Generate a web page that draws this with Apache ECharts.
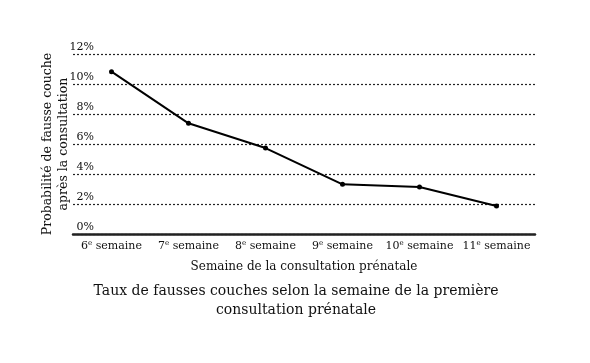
<!DOCTYPE html>
<html><head><meta charset="utf-8">
<script src="https://cdn.jsdelivr.net/npm/echarts@6/dist/echarts.min.js"></script>
<style>html,body{margin:0;padding:0;background:#fff}#c{width:590px;height:363px}</style>
</head><body><div id="c"></div>
<script>
var categories = ['6', '7', '8', '9', '10', '11'];
var values = [10.82, 7.38, 5.73, 3.31, 3.13, 1.87];
var yTicks = [0, 2, 4, 6, 8, 10, 12];
var FONT = 'DejaVu Serif';
var chart = echarts.init(document.getElementById('c'));
chart.setOption({
  animation: false,
  backgroundColor: '#fff',
  title: {
    text: 'Taux de fausses couches selon la semaine de la première\nconsultation prénatale',
    left: 291, textAlign: 'center', top: 277,
    textStyle: { fontFamily: FONT, fontSize: 14, fontWeight: 'normal', color: '#111', lineHeight: 19 }
  },
  grid: { left: 73, right: 55, top: 54, bottom: 129 },
  xAxis: {
    type: 'category', data: categories,
    name: 'Semaine de la consultation prénatale', nameLocation: 'middle', nameGap: 27,
    nameTextStyle: { fontFamily: FONT, fontSize: 12, color: '#111' },
    axisLine: { lineStyle: { color: '#222', width: 2.5 } },
    axisTick: { show: false },
    axisLabel: {
      interval: 0, margin: 6, color: '#111', fontFamily: FONT, fontSize: 11,
      formatter: function (v) { return '{n|' + v + '}{s|e}{n| semaine}'; },
      rich: {
        n: { fontFamily: FONT, fontSize: 11, color: '#111' },
        s: { fontFamily: FONT, fontSize: 7, color: '#111', padding: [0, 0, 5, 0] }
      }
    }
  },
  yAxis: {
    type: 'value', min: 0, max: 12, interval: 2,
    name: 'Probabilité de fausse couche\naprès la consultation', nameLocation: 'middle', nameGap: 1, nameRotate: 90,
    nameMoveOverlap: false,
    nameTextStyle: { fontFamily: FONT, fontSize: 12.5, color: '#111', lineHeight: 16 },
    axisLine: { show: false }, axisTick: { show: false },
    axisLabel: {
      inside: true, align: 'right', margin: 21, verticalAlign: 'bottom', padding: [0, 0, 1, 0],
      fontFamily: FONT, fontSize: 11, color: '#111',
      formatter: function (v) { return yTicks.indexOf(v) >= 0 ? v + '%' : ''; }
    },
    splitLine: { lineStyle: { type: [2, 2], color: '#222', width: 1.2 } }
  },
  series: [{
    type: 'line', data: values,
    lineStyle: { color: '#000', width: 2 },
    itemStyle: { color: '#000' },
    symbol: 'circle', symbolSize: 5
  }]
});
</script></body></html>
